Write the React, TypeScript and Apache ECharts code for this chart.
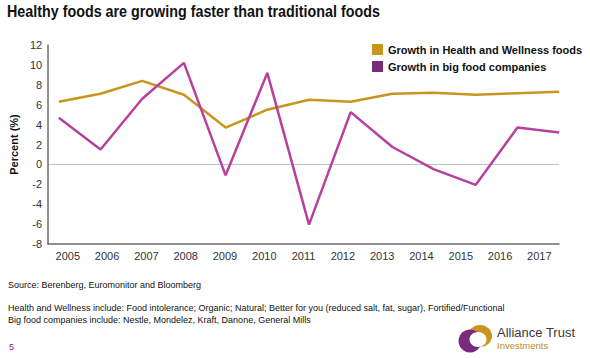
import React, { useEffect, useRef } from "react";
import * as echarts from "echarts";

const years = ["2005", "2006", "2007", "2008", "2009", "2010", "2011", "2012", "2013", "2014", "2015", "2016", "2017"];
const healthWellness = [6.3, 7.1, 8.4, 7.0, 3.7, 5.5, 6.5, 6.3, 7.1, 7.2, 7.0, 7.15, 7.3];
const bigFood = [4.7, 1.5, 6.6, 10.2, -1.1, 9.2, -6.05, 5.25, 1.75, -0.5, -2.05, 3.7, 3.2];
const seriesNames = ["Growth in Health and Wellness foods", "Growth in big food companies"];
const yMin = -8;
const yMax = 12;
const yStep = 2;

const titleText = "Healthy foods are growing faster than traditional foods";
const sourceText = "Source: Berenberg, Euromonitor and Bloomberg";
const noteLines = [
  "Health and Wellness include: Food intolerance; Organic; Natural; Better for you (reduced salt, fat, sugar), Fortified/Functional",
  "Big food companies include: Nestle, Mondelez, Kraft, Danone, General Mills",
];

const GOLD = "#C8961F";
const MAGENTA = "#B7409F";
const PURPLE = "#7A2B7C";
const FONT = "'Liberation Sans', Arial, Helvetica, sans-serif";

export default function App() {
  const ref = useRef<HTMLDivElement>(null);
  useEffect(() => {
    if (!ref.current) return;
    const chart = echarts.init(ref.current, undefined, { renderer: "svg" });
    const nLines = Math.round((yMax - yMin) / yStep) + 1;
    const splitColors = Array.from({ length: nLines }, (_, i) =>
      yMin + i * yStep === 0 ? "#c4c4c4" : "rgba(0,0,0,0)"
    );
    chart.setOption({
      animation: false,
      backgroundColor: "#ffffff",
      textStyle: { fontFamily: FONT },
      grid: [
        { left: 39, right: 31, top: 45, bottom: 114 },
        { left: 38, right: 10, top: 45, bottom: 114 },
      ],
      xAxis: [
        {
          type: "category",
          gridIndex: 0,
          data: years,
          boundaryGap: true,
          axisLine: { show: true, onZero: false, lineStyle: { color: "#6e6e6e", width: 1.5 } },
          axisTick: { show: false },
          axisLabel: { color: "#333", fontSize: 11, margin: 6, fontFamily: FONT },
          splitLine: { show: false },
        },
        {
          type: "category",
          gridIndex: 1,
          data: years,
          boundaryGap: true,
          show: false,
          axisLine: { onZero: false },
        },
      ],
      yAxis: [
        {
          type: "value",
          gridIndex: 0,
          min: yMin,
          max: yMax,
          interval: yStep,
          name: "Percent (%)",
          nameLocation: "middle",
          nameRotate: 90,
          nameGap: 20,
          nameTextStyle: { fontWeight: "bold", fontSize: 11, color: "#111", fontFamily: FONT },
          axisLine: { show: true, onZero: false, lineStyle: { color: "#6e6e6e", width: 1.5 } },
          axisTick: { show: false },
          axisLabel: { color: "#333", fontSize: 11, margin: 6, fontFamily: FONT },
          splitLine: { show: true, lineStyle: { color: splitColors, width: 1 } },
        },
        {
          type: "value",
          gridIndex: 1,
          min: yMin,
          max: yMax,
          interval: yStep,
          show: false,
          splitLine: { show: false },
        },
      ],
      legend: {
        orient: "vertical",
        left: 372,
        top: 44,
        padding: 0,
        itemWidth: 11,
        itemHeight: 11,
        itemGap: 6,
        icon: "rect",
        textStyle: { fontSize: 11, fontWeight: "bold", color: "#111", fontFamily: FONT },
        data: [
          { name: seriesNames[0], itemStyle: { color: GOLD } },
          { name: seriesNames[1], itemStyle: { color: PURPLE } },
        ],
      },
      series: [
        {
          name: seriesNames[0],
          type: "line",
          xAxisIndex: 1,
          yAxisIndex: 1,
          data: healthWellness,
          symbol: "none",
          color: GOLD,
          lineStyle: { color: GOLD, width: 2.5 },
        },
        {
          name: seriesNames[1],
          type: "line",
          xAxisIndex: 1,
          yAxisIndex: 1,
          data: bigFood,
          symbol: "none",
          color: MAGENTA,
          lineStyle: { color: MAGENTA, width: 2.5 },
        },
      ],
      graphic: [
        {
          type: "text",
          x: 7,
          y: 11.5,
          scaleX: 0.895,
          style: {
            text: titleText,
            fontSize: 16,
            fontWeight: "bold",
            fontFamily: FONT,
            fill: "#111",
            verticalAlign: "middle",
          },
        },
        {
          type: "text",
          x: 8,
          y: 285,
          style: { text: sourceText, fontSize: 9, fontFamily: FONT, fill: "#111", verticalAlign: "middle" },
        },
        {
          type: "text",
          x: 8,
          y: 307.5,
          style: { text: noteLines[0], fontSize: 9, fontFamily: FONT, fill: "#111", verticalAlign: "middle" },
        },
        {
          type: "text",
          x: 8,
          y: 320,
          style: { text: noteLines[1], fontSize: 9, fontFamily: FONT, fill: "#111", verticalAlign: "middle" },
        },
        {
          type: "text",
          x: 9,
          y: 347,
          style: { text: "5", fontSize: 9, fontFamily: FONT, fill: PURPLE, verticalAlign: "middle" },
        },
        { type: "ellipse", shape: { cx: 480, cy: 336, rx: 12, ry: 11 }, style: { fill: GOLD } },
        { type: "circle", shape: { cx: 470, cy: 341, r: 11.5 }, style: { fill: PURPLE } },
        { type: "ellipse", shape: { cx: 478, cy: 339.5, rx: 8.5, ry: 7.5 }, style: { fill: "#fff" } },
        {
          type: "text",
          x: 497,
          y: 332.5,
          style: { text: "Alliance Trust", fontSize: 13, fontFamily: FONT, fill: "#3a3a3a", verticalAlign: "middle" },
        },
        {
          type: "text",
          x: 497,
          y: 345.5,
          style: { text: "Investments", fontSize: 9.5, fontFamily: FONT, fill: "#B8901F", verticalAlign: "middle" },
        },
      ],
    });
    return () => chart.dispose();
  }, []);
  return (
    <div
      ref={ref}
      style={{ position: "fixed", left: 0, top: 0, width: 590, height: 358, background: "#fff" }}
    />
  );
}
